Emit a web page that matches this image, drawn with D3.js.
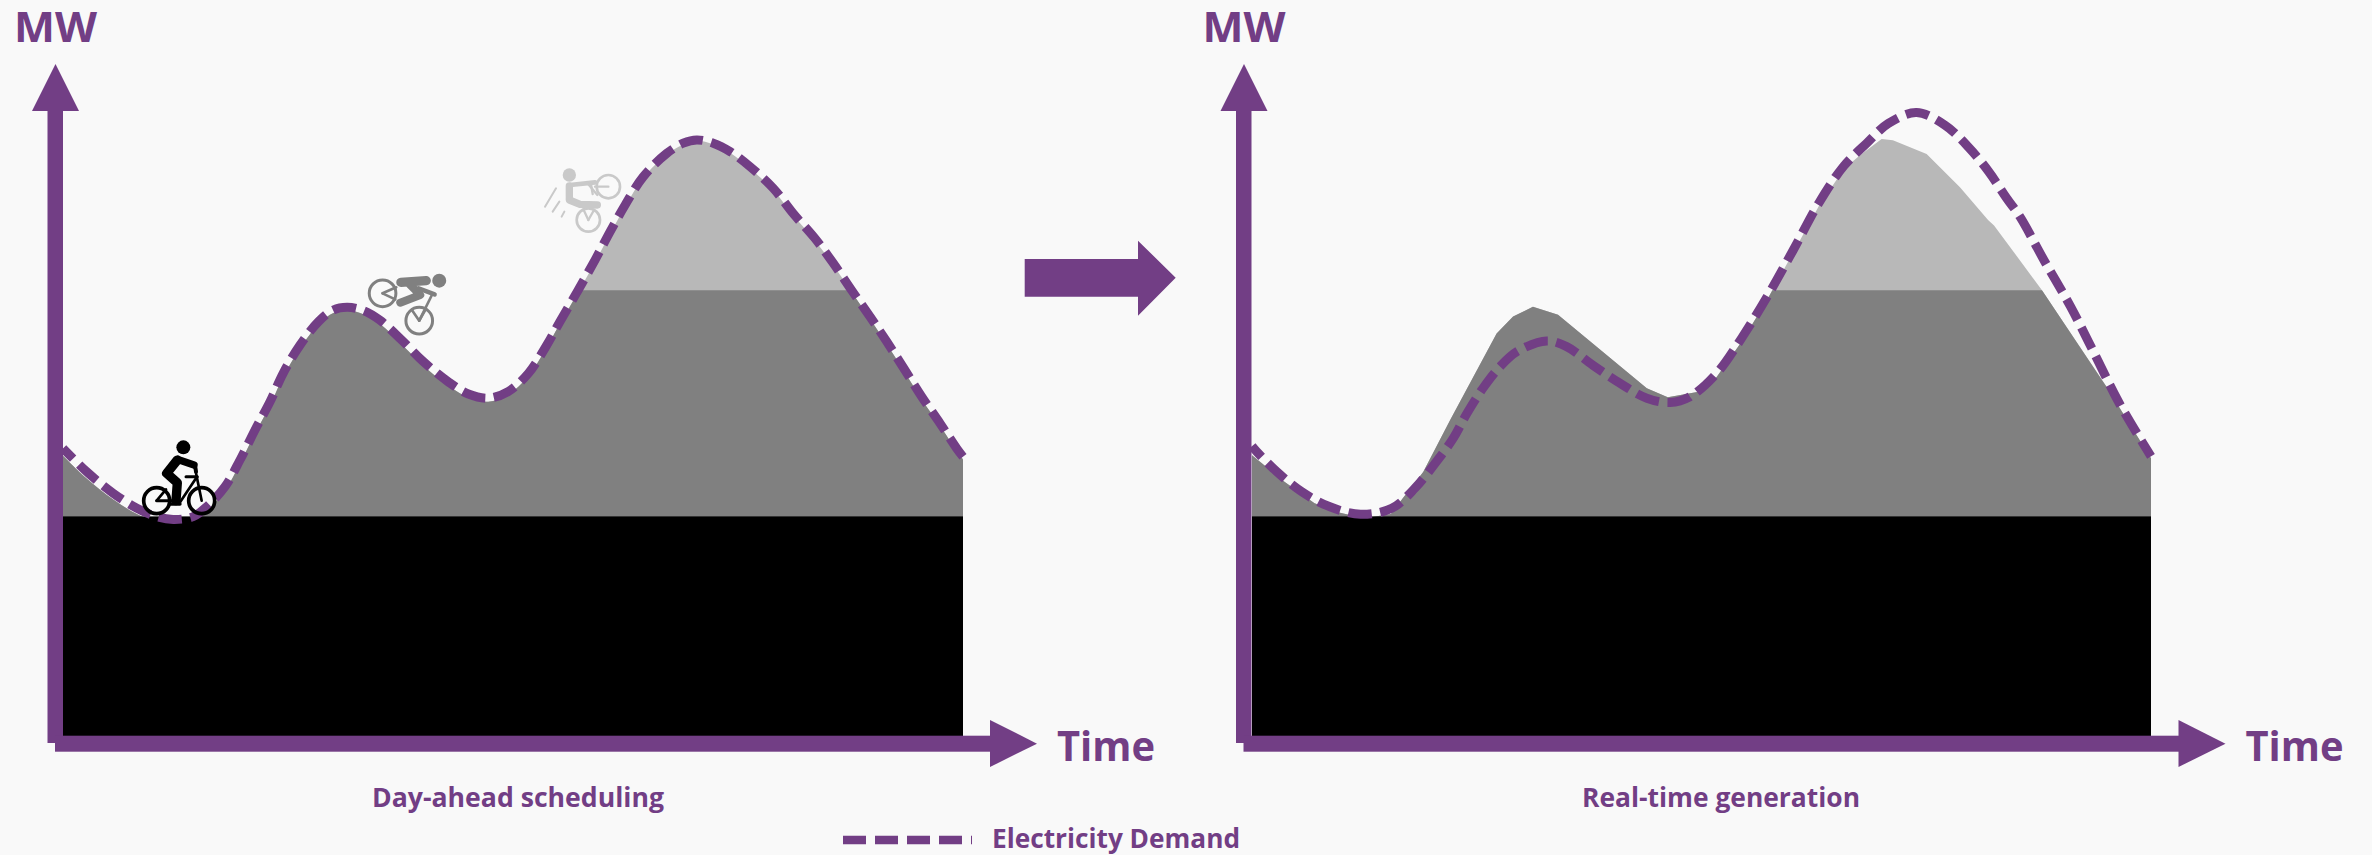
<!DOCTYPE html>
<html><head><meta charset="utf-8">
<script src="https://cdn.jsdelivr.net/npm/d3@7"></script>
<style>html,body{margin:0;padding:0;background:#f9f9f9}svg{display:block}text{font-family:"Open Sans",sans-serif;font-weight:700;fill:#723e85}</style>
</head><body><svg id="c" width="2372" height="855"></svg>
<script>
// Data (hour of day, MW in arbitrary chart units)
const dayAheadHours=[0,.63,1.34,1.97,2.5,2.94,3.47,3.83,4.32,4.72,5.12,5.52,5.87,6.32,6.81,7.21,7.58,8.01,8.45,9.03,9.61,10.27,10.81,11.34,11.87,12.41,12.9,13.25,13.74,14.19,14.59,14.99,15.47,16.1,16.54,16.9,17.34,17.79,18.32,18.94,19.47,20.05,20.54,21.03,21.52,21.97,22.45,22.9,23.39,23.83,24];
const dayAheadDemand=[47.95,44.05,40.45,37.95,36.55,36.1,36.55,38.2,41.55,46,51,55.7,60.45,65.15,69.05,71,71.45,70.9,69.3,66,62.4,59.05,57,56.3,57.4,60.45,65.15,69.05,74.35,79.35,84.05,88.5,93.2,97.1,98.8,99.35,98.8,97.4,94.9,91.3,87.1,82.95,78.8,74.3,69.9,65.7,61,56.55,52.1,47.95,46.55];
const dayAheadGeneration=[46.7,42.9,39.4,37,35.7,35.3,35.8,37.4,40.9,45.4,50.4,55.1,59.85,64.6,68.6,70.5,70.9,70.3,68.7,65.3,61.7,58.4,56.4,55.7,56.9,60,64.8,68.7,74,79,83.7,88.2,93,96.9,98.6,99.2,98.6,97.2,94.6,91,86.8,82.6,78.5,74,69.5,65.3,60.6,56.1,51.7,47.5,46.1];
const realTimeHours=[0,.125,.66,1.33,2.08,2.9,3.73,4.35,4.89,5.37,5.74,6.17,6.62,7.07,7.87,8.4,9.1,9.82,10.54,11.16,11.69,12.4,13.08,13.76,14.45,15.13,15.8,16.41,16.99,17.74,18.5,19.12,19.67,20.15,20.5,21.17,21.85,22.5,23.15,24];
const realTimeDemand=[48.3,47.4,44.05,40.7,38.2,36.95,37.95,41.3,45.45,49.6,53.8,58,61.55,64.05,65.85,64.9,61.8,58.8,56.3,55.6,56.55,60.4,66.4,73.3,81,88.8,95,98.8,102.1,103.9,101.8,98.2,94.05,89.6,86.55,79,71.6,63.6,55.5,46.6];
const realTimeGenHours=[0,.82,1.67,2.35,3,3.71,4.02,4.57,5.29,6.53,6.97,7.5,8.17,10.54,11.1,11.96,12.4,13.08,13.76,14.45,15.13,15.8,16.23,16.81,17.11,18.01,18.9,19.65,19.81,21.09,22.79,24];
const realTimeGeneration=[46.8,42.6,38.8,37.2,36.3,37,39.6,44,52.67,67.1,69.9,71.55,70.2,57.95,56.45,57.4,59.8,65.8,72.8,80.6,88.3,94.5,96.8,99.5,99.3,97,91.45,86,85.1,74.3,58.4,46.3];
const baseloadMW=36.6, midMeritMW=74.3;
const axisLabelY="MW", axisLabelX="Time", panelTitles=["Day-ahead scheduling","Real-time generation"], legendLabel="Electricity Demand";

const PURPLE="#723e85",DARK="#808080",LIGHT="#b8b8b8";
const svg=d3.select("#c");
svg.append("rect").attr("width",2372).attr("height",855).attr("fill","#f9f9f9");
const pts=(h,v)=>h.map((t,i)=>({t,v:v[i]}));

function panel(idx,dx,rangeX,demand,generation,genCurve){
  const x=d3.scaleLinear().domain([0,24]).range(rangeX);
  const y=d3.scaleLinear().domain([0,100]).range([736,136]);
  const g=svg.append("g");
  const area=d3.area().x(d=>x(d.t)).y0(y(0)).y1(d=>y(d.v)).curve(genCurve);
  g.append("path").datum(generation).attr("d",area).attr("fill",LIGHT);
  const cid="mid"+idx;
  g.append("clipPath").attr("id",cid).append("rect").attr("x",x(0)).attr("width",x(24)-x(0)).attr("y",y(midMeritMW)).attr("height",y(0)-y(midMeritMW));
  g.append("path").datum(generation).attr("d",area).attr("fill",DARK).attr("clip-path",`url(#${cid})`);
  g.append("rect").attr("x",x(0)).attr("width",x(24)-x(0)).attr("y",y(baseloadMW)).attr("height",y(0)-y(baseloadMW)).attr("fill","#000");
  const line=d3.line().x(d=>x(d.t)).y(d=>y(d.v)).curve(d3.curveCatmullRom.alpha(.5));
  g.append("path").datum(demand).attr("d",line).attr("fill","none").attr("stroke",PURPLE).attr("stroke-width",9).attr("stroke-dasharray","23.5 8.5").attr("stroke-dashoffset",9);
  // axes
  const a=g.append("g").attr("fill",PURPLE).attr("transform",`translate(${dx},0)`);
  a.append("rect").attr("x",47.5).attr("y",110).attr("width",15.5).attr("height",633);
  a.append("path").attr("d","M55.5,64L79,111L32,111Z");
  a.append("rect").attr("x",55).attr("y",735.7).attr("width",936).attr("height",16);
  a.append("path").attr("d","M990,720L1037,743.7L990,767Z");
  const t=g.append("g").attr("transform",`translate(${dx},0)`);
  t.append("text").attr("x",14).attr("y",42).attr("font-size",40.5).attr("textLength",83).attr("lengthAdjust","spacingAndGlyphs").text(axisLabelY);
  t.append("text").attr("x",1057).attr("y",761).attr("font-size",41).attr("textLength",98).attr("lengthAdjust","spacingAndGlyphs").text(axisLabelX);
  return {x,y};
}
const dayAhead=panel(0,0,[63,963],pts(dayAheadHours,dayAheadDemand),pts(dayAheadHours,dayAheadGeneration),d3.curveCatmullRom.alpha(.5));
const realTime=panel(1,1188.5,[1252,2151],pts(realTimeHours,realTimeDemand),pts(realTimeGenHours,realTimeGeneration),d3.curveLinear);

svg.append("text").attr("x",372).attr("y",807).attr("font-size",26.5).attr("textLength",292).attr("lengthAdjust","spacingAndGlyphs").text(panelTitles[0]);
svg.append("text").attr("x",1582).attr("y",807).attr("font-size",26.5).attr("textLength",278).attr("lengthAdjust","spacingAndGlyphs").text(panelTitles[1]);
svg.append("path").attr("d","M1024.7,259H1138V240.7L1175.7,277.7L1138,315.7V296.7H1024.7Z").attr("fill",PURPLE);
svg.append("line").attr("x1",843).attr("x2",972).attr("y1",840).attr("y2",840).attr("stroke",PURPLE).attr("stroke-width",8.5).attr("stroke-dasharray","23 9");
svg.append("text").attr("x",992).attr("y",848).attr("font-size",26.5).attr("textLength",248).attr("lengthAdjust","spacingAndGlyphs").text(legendLabel);

// Cyclist icons, anchored through the day-ahead scales (local units: 3 = 1px)
function icon(t,mw,color,wheels,head,thick,thin){
  const g=svg.append("g").attr("transform",`translate(${dayAhead.x(t)},${dayAhead.y(mw)}) scale(${1/3})`)
    .attr("fill","none").attr("stroke",color).attr("stroke-linecap","round").attr("stroke-linejoin","round");
  wheels.forEach(w=>g.append("circle").attr("cx",w[0]).attr("cy",w[1]).attr("r",w[2]).attr("stroke-width",w[3]));
  g.append("circle").attr("cx",head[0]).attr("cy",head[1]).attr("r",head[2]).attr("fill",color).attr("stroke","none");
  thick.forEach(p=>g.append("path").attr("d",p[0]).attr("stroke-width",p[1]));
  thin.forEach(p=>g.append("path").attr("d",p[0]).attr("stroke-width",p[1]));
}
icon(.987,54.33,"#000",[[170,272,39,11],[305,272,39,11]],[250,112,21],
  [["M232,150L200,190L232,218L228,272",28],["M238,150L282,165",22],["M285,165L288,185",12],["M208,282H240",10]],
  [["M285,175L305,272",8],["M258,200H292",9],["M288,205L238,280",8],["M170,272L198,238",8],["M170,272H228",9]]);
icon(7.393,81.0,"#808080",[[127,130,40,9],[237,212,40,9]],[297,92,21],
  [["M182,97L258,92",28],["M210,105L240,135L180,158",24],["M235,115L283,133",14]],
  [["M275,135L237,212",8],["M127,130L168,112",8],["M127,130L165,148",8],["M237,212L215,180",8],["M237,212L255,180",8]]);
icon(12.187,97.67,"#c9c9c9",[[265,110,35,8],[205,210,35,8]],[148,75,20],
  [["M148,108L148,150L180,163L232,165",22],["M150,105L225,97",14]],
  [["M200,97L232,135",7],["M212,97L218,132",7],["M265,110H225",7],["M205,210L190,178",7],["M205,210L222,180",7],["M75,170L108,115",6],["M98,185L118,155",6],["M125,200L133,185",6]]);
</script></body></html>
